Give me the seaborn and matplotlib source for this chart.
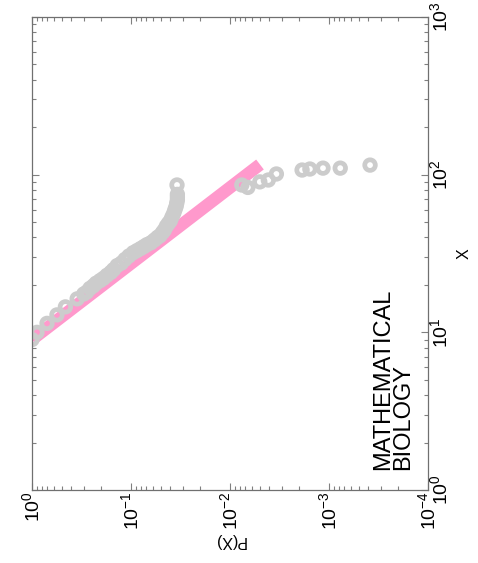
import matplotlib
matplotlib.use("Agg")
import matplotlib.pyplot as plt
import seaborn as sns
import numpy as np
import pandas as pd
from matplotlib.ticker import LogLocator, NullFormatter

# ---- data (axes are drawn rotated: P(X) horizontal, X vertical) ----
body_X = [9, 10, 11.4, 12.9, 14.5, 16.3, 17.5,
          18, 19, 19.7, 20.5, 21.3, 22, 23, 24, 25, 26.5, 27.5, 29, 30.5, 32, 33, 34,
          35, 36, 37, 38.5, 40, 41, 43, 44.5, 47, 49, 51, 54, 57, 60, 63, 66, 69, 72,
          75, 86]
body_P = [1.0, 0.89, 0.705, 0.56, 0.46, 0.35, 0.30,
          0.28, 0.26, 0.24, 0.225, 0.205, 0.19, 0.175, 0.16, 0.15,
          0.138, 0.125, 0.115, 0.105, 0.095, 0.087, 0.08, 0.074, 0.069, 0.063, 0.058,
          0.054, 0.051, 0.048, 0.046, 0.044, 0.042, 0.040, 0.0385, 0.037, 0.036, 0.035,
          0.0345, 0.034, 0.034, 0.034, 0.0343]
tail_X = [83, 86, 90, 92.5, 101, 107, 108.6, 110, 110, 115]
tail_P = [0.0066, 0.0076, 0.0050, 0.0041, 0.0034, 0.00187, 0.00156, 0.00115, 0.00077, 0.000385]
fit_X = [9, 116]
fit_P = [1.0, 0.00498]

x_ticks = [1e0, 1e1, 1e2, 1e3]
p_ticks = [1e0, 1e-1, 1e-2, 1e-3, 1e-4]
annot = "MATHEMATICAL\nBIOLOGY"

pts = pd.DataFrame({"P": body_P + tail_P, "X": body_X + tail_X})
fit = pd.DataFrame({"P": fit_P, "X": fit_X})

sns.set_theme(style="white")
plt.rcParams["font.family"] = ["Liberation Sans", "DejaVu Sans"]
plt.rcParams["mathtext.fontset"] = "custom"
plt.rcParams["mathtext.rm"] = "Liberation Sans"
plt.rcParams["mathtext.it"] = "Liberation Sans:italic"
plt.rcParams["mathtext.bf"] = "Liberation Sans:bold"
plt.rcParams["mathtext.default"] = "regular"

fig = plt.figure(figsize=(4.78, 5.63), dpi=100)
ax = fig.add_axes([32 / 478, 1 - 490 / 563, 396 / 478, 473 / 563])

sns.lineplot(data=fit, x="P", y="X", ax=ax, color="#ff99cc", linewidth=9,
             estimator=None, sort=False, solid_capstyle="butt", zorder=1)
sns.scatterplot(data=pts, x="P", y="X", ax=ax, marker="o", s=58, zorder=2)
coll = ax.collections[-1]
coll.set_facecolor("none")
coll.set_edgecolor("#cccccc")
coll.set_linewidth(3.4)

ax.set_xscale("log")
ax.set_yscale("log")
ax.set_xlim(1, 1e-4)
ax.set_ylim(1, 1000)
ax.set_xticks(p_ticks)
ax.set_yticks(x_ticks)
ax.xaxis.set_minor_locator(LogLocator(base=10, subs=np.arange(2, 10)))
ax.yaxis.set_minor_locator(LogLocator(base=10, subs=np.arange(2, 10)))
ax.xaxis.set_minor_formatter(NullFormatter())
ax.yaxis.set_minor_formatter(NullFormatter())

ax.yaxis.tick_right()
ax.yaxis.set_label_position("right")
ax.tick_params(which="both", direction="in", top=True, bottom=True, left=True, right=True,
               color="#808080", width=0.8)
ax.tick_params(which="major", length=5)
ax.tick_params(which="minor", length=3)
ax.tick_params(axis="x", which="major", labelsize=14, labelrotation=90, pad=1, labelcolor="black")
ax.tick_params(axis="y", which="major", labelsize=14, labelrotation=90, pad=1, labelcolor="black")
for lab in ax.get_yticklabels():
    lab.set_va("center")
for s in ax.spines.values():
    s.set_color("#707070")
    s.set_linewidth(0.9)

ax.set_xlabel("P(X)", rotation=180, fontsize=11.5, color="black", labelpad=2)
ax.set_ylabel("X", rotation=90, fontsize=11.5, color="black", labelpad=4)

ax.text(0.858, 0.042, annot, transform=ax.transAxes, rotation=90, ha="left", va="bottom",
        multialignment="left", fontsize=17, linespacing=0.9, color="black")

fig.savefig("out.png", dpi=100)
